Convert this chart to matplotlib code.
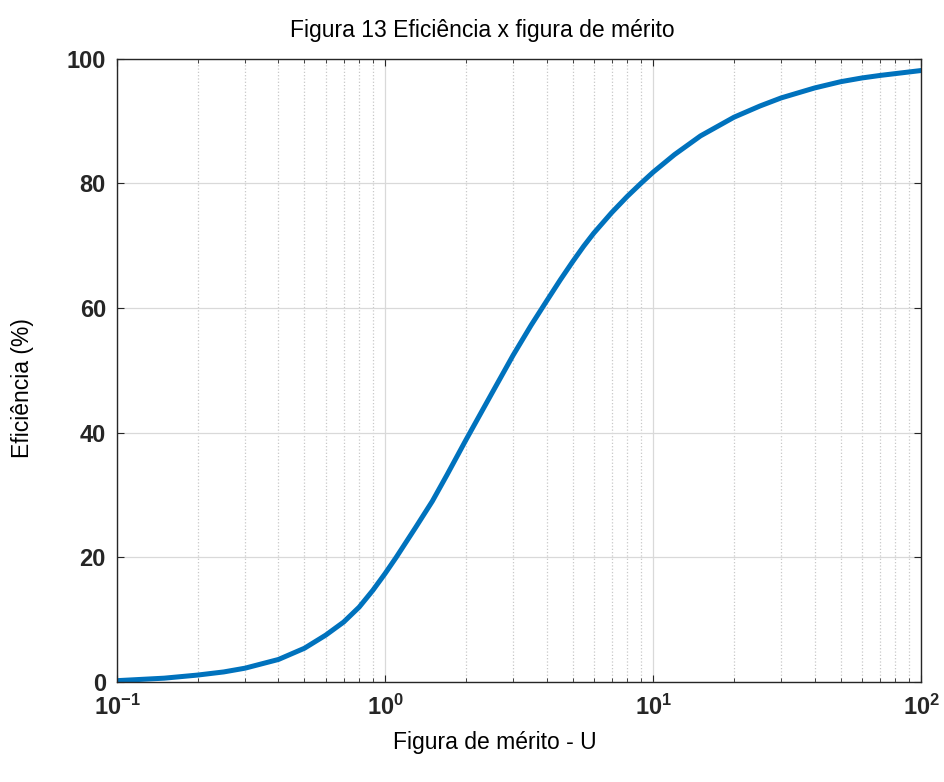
import numpy as np
import matplotlib
matplotlib.use("Agg")
from matplotlib import pyplot as plt
from matplotlib.ticker import LogLocator, FixedLocator, FixedFormatter, NullFormatter

# figura de mérito U x eficiência (%)
U = [0.1, 0.15, 0.2, 0.25, 0.3, 0.4, 0.5, 0.6, 0.7, 0.8, 0.9, 1.0, 1.1, 1.2,
     1.3, 1.5, 1.7, 2.0, 2.5, 3.0, 3.5, 4.0, 4.5, 5.0, 5.5, 6.0, 7.0, 8.0,
     9.0, 10.0, 12.0, 15.0, 20.0, 25.0, 30.0, 40.0, 50.0, 60.0, 70.0, 80.0,
     100.0]
eficiencia = [0.2, 0.6, 1.1, 1.6, 2.2, 3.6, 5.4, 7.5, 9.6, 12.0, 14.7, 17.4,
              20.0, 22.5, 24.8, 29.0, 33.2, 38.8, 46.3, 52.4, 57.2, 61.1,
              64.5, 67.4, 69.9, 72.0, 75.3, 77.9, 80.0, 81.8, 84.6, 87.6,
              90.6, 92.4, 93.7, 95.3, 96.3, 96.9, 97.3, 97.6, 98.1]

x_ticks = [0.1, 1, 10, 100]
x_labels = [r'$\mathbf{10^{-1}}$', r'$\mathbf{10^{0}}$', r'$\mathbf{10^{1}}$', r'$\mathbf{10^{2}}$']
y_ticks = [0, 20, 40, 60, 80, 100]

plt.rcParams['font.family'] = ['Liberation Sans', 'DejaVu Sans']
plt.rcParams['mathtext.fontset'] = 'custom'
plt.rcParams['mathtext.bf'] = 'Liberation Sans:bold'
plt.rcParams['mathtext.rm'] = 'Liberation Sans'

fig = plt.figure(figsize=(9.44, 7.82), dpi=100)
ax = fig.add_axes([0.124, 0.128, 0.852, 0.797])

ax.plot(U, eficiencia, color='#0072BD', linewidth=3.6, solid_capstyle='butt',
        solid_joinstyle='round')

ax.set_xscale('log')
ax.set_xlim(0.1, 100)
ax.set_ylim(0, 100)

ax.xaxis.set_major_locator(FixedLocator(x_ticks))
ax.xaxis.set_major_formatter(FixedFormatter(x_labels))
ax.xaxis.set_minor_locator(LogLocator(base=10, subs=np.arange(2, 10), numticks=20))
ax.xaxis.set_minor_formatter(NullFormatter())
ax.set_yticks(y_ticks)
ax.set_yticklabels([str(v) for v in y_ticks], fontweight='bold')

ax.tick_params(which='both', direction='in', top=True, right=True, colors='#262626')
ax.tick_params(which='major', length=5, width=0.8, labelsize=17)
ax.tick_params(axis='x', which='major', pad=9)
ax.tick_params(axis='y', which='major', pad=8)
ax.tick_params(which='minor', length=3, width=0.6)

ax.grid(which='major', color='#d9d9d9', linestyle='-', linewidth=0.9)
ax.grid(which='minor', axis='x', color='#c8c8c8', linestyle=':', linewidth=0.9)
ax.set_axisbelow(True)

for s in ax.spines.values():
    s.set_color('#262626')
    s.set_linewidth(1.0)

fig.text(482 / 944, 1 - 31 / 782, 'Figura 13 Eficiência x figura de mérito',
         fontsize=16.5, ha='center', va='center')
fig.text(495 / 944, 1 - 742 / 782, 'Figura de mérito - U',
         fontsize=16.5, ha='center', va='center')
fig.text(22 / 944, 1 - 388 / 782, 'Eficiência (%)',
         fontsize=16.5, ha='center', va='center', rotation=90)

fig.savefig('out.png', dpi=100)
